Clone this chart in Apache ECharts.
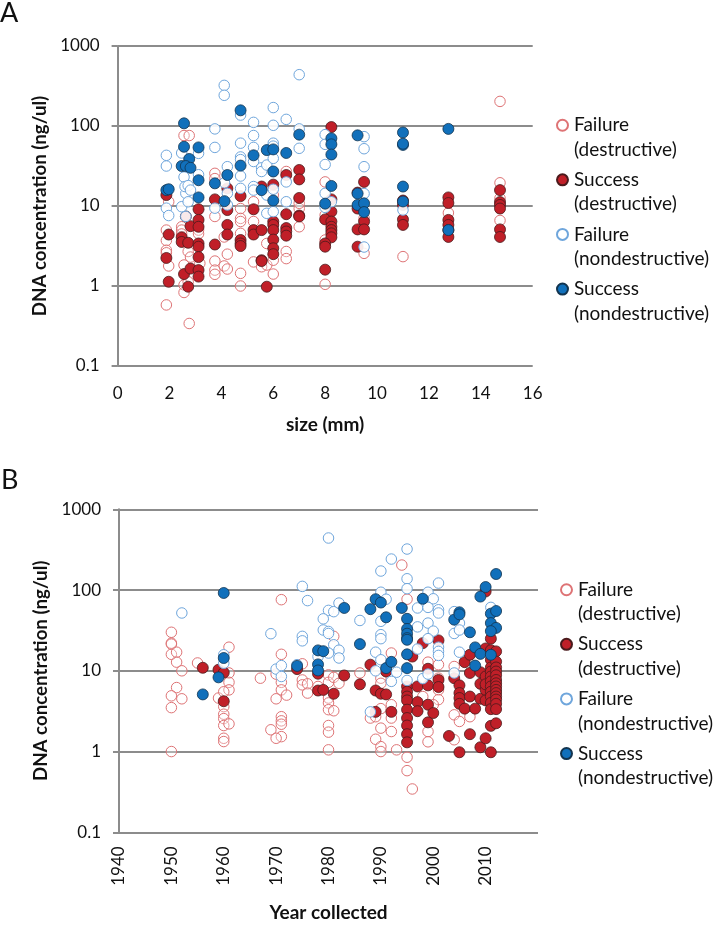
<!DOCTYPE html>
<html><head><meta charset="utf-8">
<script src="https://cdn.jsdelivr.net/npm/echarts@6/dist/echarts.min.js"></script>
<style>html,body{margin:0;padding:0;background:#fff}#c{width:722px;height:934px}</style>
</head><body><div id="c"></div>
<script>
const seriesNames = ['Failure\n(destructive)','Success\n(destructive)','Failure\n(nondestructive)','Success\n(nondestructive)'];
const panelLetters = ['A','B'];
const yLabel = 'DNA concentration (ng/ul)';
const xLabelA = 'size (mm)';
const xLabelB = 'Year collected';

const failDestrA = [[1.88,5],[1.88,3.7],[1.88,2.8],[1.88,2.6],[1.88,0.58],[1.97,1.78],[1.97,11.3],[2.56,76],[2.76,76],[2.47,5.5],[2.47,5],[2.47,4.47],[2.56,1.83],[2.56,1.03],[2.56,0.83],[2.76,0.34],[2.72,1.13],[2.72,2.7],[2.81,2.3],[3.17,1.92],[3.12,5],[3.12,4.5],[3.75,25.6],[3.75,22],[3.75,7.4],[3.75,2.05],[3.75,1.58],[3.75,1.4],[4.11,4.1],[4.11,1.78],[4.23,2.5],[4.23,1.63],[4.74,9.3],[4.74,7],[4.74,6.4],[4.74,4.55],[4.74,1.44],[4.74,1],[5.24,11.3],[5.24,6.4],[5.24,2],[5.55,1.74],[5.75,3.4],[5.75,1.83],[6,13.7],[6,2.1],[6,1.41],[6.5,27],[6.5,2.7],[6.5,2.2],[7,9.3],[7,5.5],[7,10.8],[8,20],[8,7.7],[8,3.76],[8,1.05],[9.5,7],[9.5,2.56],[11,2.33],[12.75,8.2],[14.74,203],[14.74,19.5],[14.74,12.5],[14.74,6.6]];
const succDestrA = [[1.88,13.7],[1.88,2.24],[1.97,4.4],[1.97,1.13],[2.47,4.06],[2.47,3.55],[2.56,1.41],[2.72,0.98],[2.81,1.65],[2.63,7.4],[2.81,5.6],[2.72,3.47],[3.12,9.1],[3.12,6.7],[3.12,5.5],[3.12,3.4],[3.12,3.1],[3.12,2.3],[3.12,1.58],[3.12,1.31],[3.75,12.1],[3.75,3.3],[4.23,16.6],[4.23,8.9],[4.23,5.8],[4.23,4.4],[4.74,13.3],[4.74,3.76],[4.74,3.4],[4.74,3.16],[5.24,9.1],[5.24,5],[5.24,4.4],[5.55,5],[5.55,17.5],[5.55,2.1],[5.55,2.05],[5.75,0.98],[6,18.5],[6,6.4],[6,5.8],[6,5],[6,3.8],[6,2.96],[6,2.5],[6.5,24.4],[6.5,7.9],[6.5,5.3],[6.5,4.8],[6.5,4.26],[7,28.2],[7,21.5],[7,12.6],[7,7.6],[7,7.4],[8.24,97],[8.24,12.1],[8.24,8.5],[8,6.8],[8.24,6.4],[8.24,5.5],[8.24,5],[8.24,4.55],[8.24,4.06],[8,3.4],[8,3.1],[8,1.6],[9.25,14.7],[9.5,20],[9.25,9.3],[9.5,6.4],[9.25,5.1],[9.5,5.1],[9.25,3.1],[11,11.7],[11,10.3],[11,6.8],[11,5.8],[12.75,12.8],[12.75,10.9],[12.75,6.7],[12.75,5.8],[12.75,5],[12.75,4.1],[14.74,15.8],[14.74,11.2],[14.74,10.3],[14.74,9.3],[14.74,5.1],[14.74,4.1]];
const failNonA = [[1.88,43],[1.88,31.6],[1.88,9.4],[1.97,7.6],[2.47,46],[2.47,9.8],[2.63,14.4],[2.63,7.4],[2.56,23],[2.6,17.5],[2.72,18],[2.72,11.3],[2.81,15.8],[3.12,24.6],[3.12,45.5],[3.75,92],[3.75,54],[3.75,9.4],[4.11,322],[4.11,242],[4.23,31],[4.12,19.5],[4.23,14.4],[4.23,10.3],[4.74,137],[4.74,61],[4.74,41],[4.74,38],[4.74,23.7],[4.74,16.6],[5.24,111],[5.24,76],[5.24,54],[5.24,36],[5.24,17.5],[5.24,15.8],[5.55,30],[5.55,27],[5.75,32.5],[5.75,13.7],[5.75,8.1],[6,170],[6,102],[6,61],[6,56],[6,39.4],[6,16.2],[6,8.5],[6.5,121],[6.5,20],[6.5,11.3],[7,438],[7,92],[7,52.6],[8,78],[8,59],[8,33],[8,14.4],[8,9.6],[8.24,11.3],[9.5,73.6],[9.5,52],[9.5,31],[9.5,14.3],[9.5,3.07],[11,8.9]];
const succNonA = [[2.56,108],[2.56,55],[3.12,54],[2.76,38.7],[2.47,31.6],[2.63,31.6],[2.81,30],[3.12,21],[3.12,12.8],[1.88,15.8],[1.97,16.2],[3.75,19.2],[4.23,24.4],[4.12,11.5],[4.74,157],[4.74,32],[5.24,43],[5.55,15.8],[5.75,50],[6,51],[6,27],[6,11.7],[6.5,46],[7,78],[8.24,70],[8.24,59],[8.24,44],[8.24,17.8],[8,10.7],[9.25,76.4],[9.25,14.3],[9.25,10.3],[9.5,10.8],[9.5,8.4],[11,83],[11,58],[11,60],[11,17.5],[11,11.4],[12.75,92],[12.75,5]];

const failDestrB = [[1950,30],[1950,22],[1950,21.4],[1950,16],[1951,17],[1951,12.8],[1952,10],[1951,6.2],[1950,4.9],[1952,4.5],[1950,3.5],[1950,1],[1955,12.5],[1961,19.6],[1961,9.4],[1961,7.2],[1961,5.8],[1959,4.6],[1960,5.5],[1960,3.6],[1960,2.9],[1960,2.56],[1960,2.1],[1961,2.2],[1960,1.46],[1960,1.33],[1971,76],[1971,16],[1970,9.1],[1967,8.1],[1971,7.2],[1971,5.8],[1970,4.5],[1972,5],[1971,2.7],[1971,2.4],[1971,2.18],[1969,1.86],[1971,1.53],[1970,1.46],[1975,12.2],[1975,7.7],[1975,6.7],[1976,6.9],[1976,5.3],[1980,8.9],[1980,7.2],[1981,8.3],[1978,6.4],[1980,4.6],[1980,4],[1980,3.3],[1981,3.2],[1980,2.1],[1980,1.74],[1980,1.05],[1981,26.7],[1982,7],[1994,204],[1995,77],[1992,16.6],[1986,9.4],[1990,8.1],[1990,7],[1999,12.8],[2001,11.9],[2004,11.3],[2004,2.85],[2005,2.36],[2007,2.7],[2004,1.4],[1990,3.4],[1992,3.8],[1992,2.6],[1988,2.6],[1989,2.7],[1990,1.95],[1992,1.77],[1989,1.42],[1990,1.15],[1990,1],[1993,1.05],[1995,0.85],[1995,0.58],[1996,0.344],[1999,1.77],[1999,1.32],[2001,8.1],[2001,5.8],[2001,4.4],[2000,3.8],[1998,4.8]];
const succDestrB = [[1956,10.9],[1959,10.3],[1960,9.5],[1960,4.2],[1974,10.5],[1978,9.2],[1978,5.7],[1979,5.8],[1981,5.2],[1983,8.75],[1986,6.8],[1988,11.9],[1989,5.7],[1990,5.2],[1991,5.1],[1989,3.1],[1992,3.1],[1991,9.8],[1995,6.4],[1995,5.5],[1995,4.8],[1995,4.3],[1995,3.3],[1995,2.6],[1995,2.1],[1995,1.64],[1995,1.3],[1996,15],[1997,6.4],[1997,4.1],[1997,3.16],[1998,22],[1999,10.6],[1999,6.6],[1999,3.8],[1999,2.3],[2000,3],[2001,23.8],[2001,7.7],[2001,6.3],[2003,1.56],[2004,8.1],[2005,6.6],[2005,5.3],[2005,4.6],[2005,3.9],[2005,0.98],[2006,12.8],[2006,3.4],[2007,15.8],[2007,9.4],[2007,4.8],[2007,1.64],[2008,3.4],[2009,9.6],[2009,6.9],[2009,4.5],[2009,1.13],[2010,1.46],[2010,18.9],[2010,96],[2010,8.5],[2010,5.8],[2010,6.8],[2010,4.3],[2011,25],[2011,2.08],[2011,0.98],[2011,18],[2011,13.7],[2011,11],[2011,9.8],[2011,8.5],[2011,7.4],[2011,6.4],[2011,5.5],[2011,4.8],[2011,4],[2011,3.35],[2012,17.4],[2012,13],[2012,11],[2012,9.8],[2012,8.8],[2012,7.7],[2012,7],[2012,6.4],[2012,5.8],[2012,5.3],[2012,4.8],[2012,4.4],[2012,3.9],[2012,3.35],[2012,2.24]];
const failNonB = [[1952,52],[1960,15.8],[1960,12.4],[1969,28.8],[1970,10.5],[1971,11.6],[1971,8.5],[1975,111],[1976,74],[1975,26.7],[1975,23.5],[1974,11.9],[1980,441],[1980,56],[1981,54],[1982,69],[1979,44],[1979,32],[1980,30.7],[1980,29],[1981,21],[1982,18],[1982,14.4],[1978,15],[1980,16.6],[1995,322],[1992,242],[1990,172],[1995,138],[1995,104],[2001,122],[1999,94],[1990,94],[1991,77],[2000,78],[1997,60],[1999,61],[2001,57],[2001,52],[1986,42],[1990,41],[2004,54],[2005,39],[1997,35],[1999,39],[2000,31],[2004,29],[1990,28],[1990,25],[1999,25],[2005,32],[2011,61],[1989,17],[1990,13.7],[1989,10],[1993,9.6],[1992,7.4],[1995,7.6],[1997,18.6],[2001,19.6],[2001,17.4],[2001,15.5],[2005,17],[1998,8],[1999,9.1],[2004,9.4],[1988,3.1]];
const succNonB = [[1960,92],[1960,14.4],[1959,8.3],[1956,5.1],[1974,11.5],[1978,17.9],[1979,17.5],[1978,12],[1978,10.1],[1983,60],[1986,21.4],[1988,58],[1989,77],[1990,70],[1991,46],[1991,10.8],[1992,12.9],[1994,60],[1995,44],[1995,33],[1995,28.8],[1995,25.4],[1995,24.2],[1995,16],[1995,10.8],[1998,78],[2004,43],[2005,53],[2005,50],[2007,30],[2008,19.5],[2009,16.2],[2008,11.6],[2009,83],[2010,109],[2011,51],[2012,55],[2011,39],[2012,34],[2011,31],[2011,15.8],[2012,158]];

const FONT = 'Lato';
const AXIS = '#8c8c8c', TXT = '#111';
const styles = [
  {symbolSize: 10.5, itemStyle:{opacity:1, color:'rgba(255,255,255,0.3)', borderColor:'#de7375', borderWidth:1}},
  {symbolSize: 11, itemStyle:{opacity:1, color:'#c01f28', borderColor:'#4a1a1c', borderWidth:0.8}},
  {symbolSize: 10.5, itemStyle:{opacity:1, color:'rgba(255,255,255,0.9)', borderColor:'#6fa6dc', borderWidth:1}},
  {symbolSize: 11, itemStyle:{opacity:1, color:'#1170bb', borderColor:'#12344f', borderWidth:0.8}}
];
const ICON = 'path://M100 50A50 50 0 1 1 0 50A50 50 0 1 1 100 50ZM50 323L50 323';
const panels = [
  {data:[failDestrA,succDestrA,failNonA,succNonA], grid:{left:117.6,right:189.3,top:46,height:320}, x:{min:0,max:16,interval:2,name:xLabelA,nameGap:49}, legendTop:113, legendLeft:556},
  {data:[failDestrB,succDestrB,failNonB,succNonB], grid:{left:119,right:184,top:509.3,height:323}, x:{min:1940,max:2020,interval:10,name:xLabelB,nameGap:71,rotate:90,fmt:v=>v===2020?'':String(v)}, legendTop:577.5, legendLeft:560}
];
const option = {
  animation:false, backgroundColor:'#fff',
  textStyle:{fontFamily:FONT},
  title:[
    {text:panelLetters[0], left:0, top:0, padding:0, textStyle:{fontFamily:FONT,fontWeight:'normal',fontSize:27,color:TXT}},
    {text:panelLetters[1], left:1, top:467, padding:0, textStyle:{fontFamily:FONT,fontWeight:'normal',fontSize:27,color:TXT}}
  ],
  grid:[], xAxis:[], yAxis:[], series:[], legend:[]
};
panels.forEach((p,i)=>{
  option.grid.push(p.grid);
  option.xAxis.push({type:'value',gridIndex:i,min:p.x.min,max:p.x.max,interval:p.x.interval,
    name:p.x.name,nameLocation:'middle',nameGap:p.x.nameGap,
    nameTextStyle:{fontFamily:FONT,fontWeight:'bold',fontSize:19,color:TXT},
    axisLine:{show:false},axisTick:{show:false},splitLine:{show:false},
    axisLabel:{fontFamily:FONT,fontSize:17,color:TXT,margin:i?14:19,rotate:p.x.rotate||0,showMaxLabel:true,formatter:p.x.fmt||(v=>String(v))}});
  option.yAxis.push({type:'log',logBase:10,gridIndex:i,min:0.1,max:1000,
    name:yLabel,nameLocation:'middle',nameGap:i?68:66,nameRotate:90,
    nameTextStyle:{fontFamily:FONT,fontWeight:'bold',fontSize:18.7,color:TXT},
    axisLine:{show:true,onZero:false,lineStyle:{color:AXIS,width:2}},
    axisTick:{show:true,length:6,lineStyle:{color:AXIS,width:2}},
    minorTick:{show:false},minorSplitLine:{show:false},
    splitLine:{show:true,lineStyle:{color:AXIS,width:2}},
    axisLabel:{fontFamily:FONT,fontSize:17,color:TXT,margin:18,formatter:v=>String(+(+v).toPrecision(3))}});
  p.data.forEach((d,k)=>{
    option.series.push(Object.assign({type:'scatter',name:seriesNames[k]+(i?' ':''),xAxisIndex:i,yAxisIndex:i,data:d,z:2+k,clip:false,silent:true},styles[k]));
  });
  option.legend.push({orient:'vertical',left:p.legendLeft,top:p.legendTop,itemWidth:11,itemHeight:35.5,itemGap:5.6,padding:0,
    icon:ICON,data:seriesNames.map(n=>n+(i?' ':'')),
    textStyle:{fontFamily:FONT,fontSize:19,color:TXT,lineHeight:24.5,padding:[0,0,0,1]},selectedMode:false});
});
const chart = echarts.init(document.getElementById('c'),null,{renderer:'canvas'});
chart.setOption(option);
</script></body></html>
